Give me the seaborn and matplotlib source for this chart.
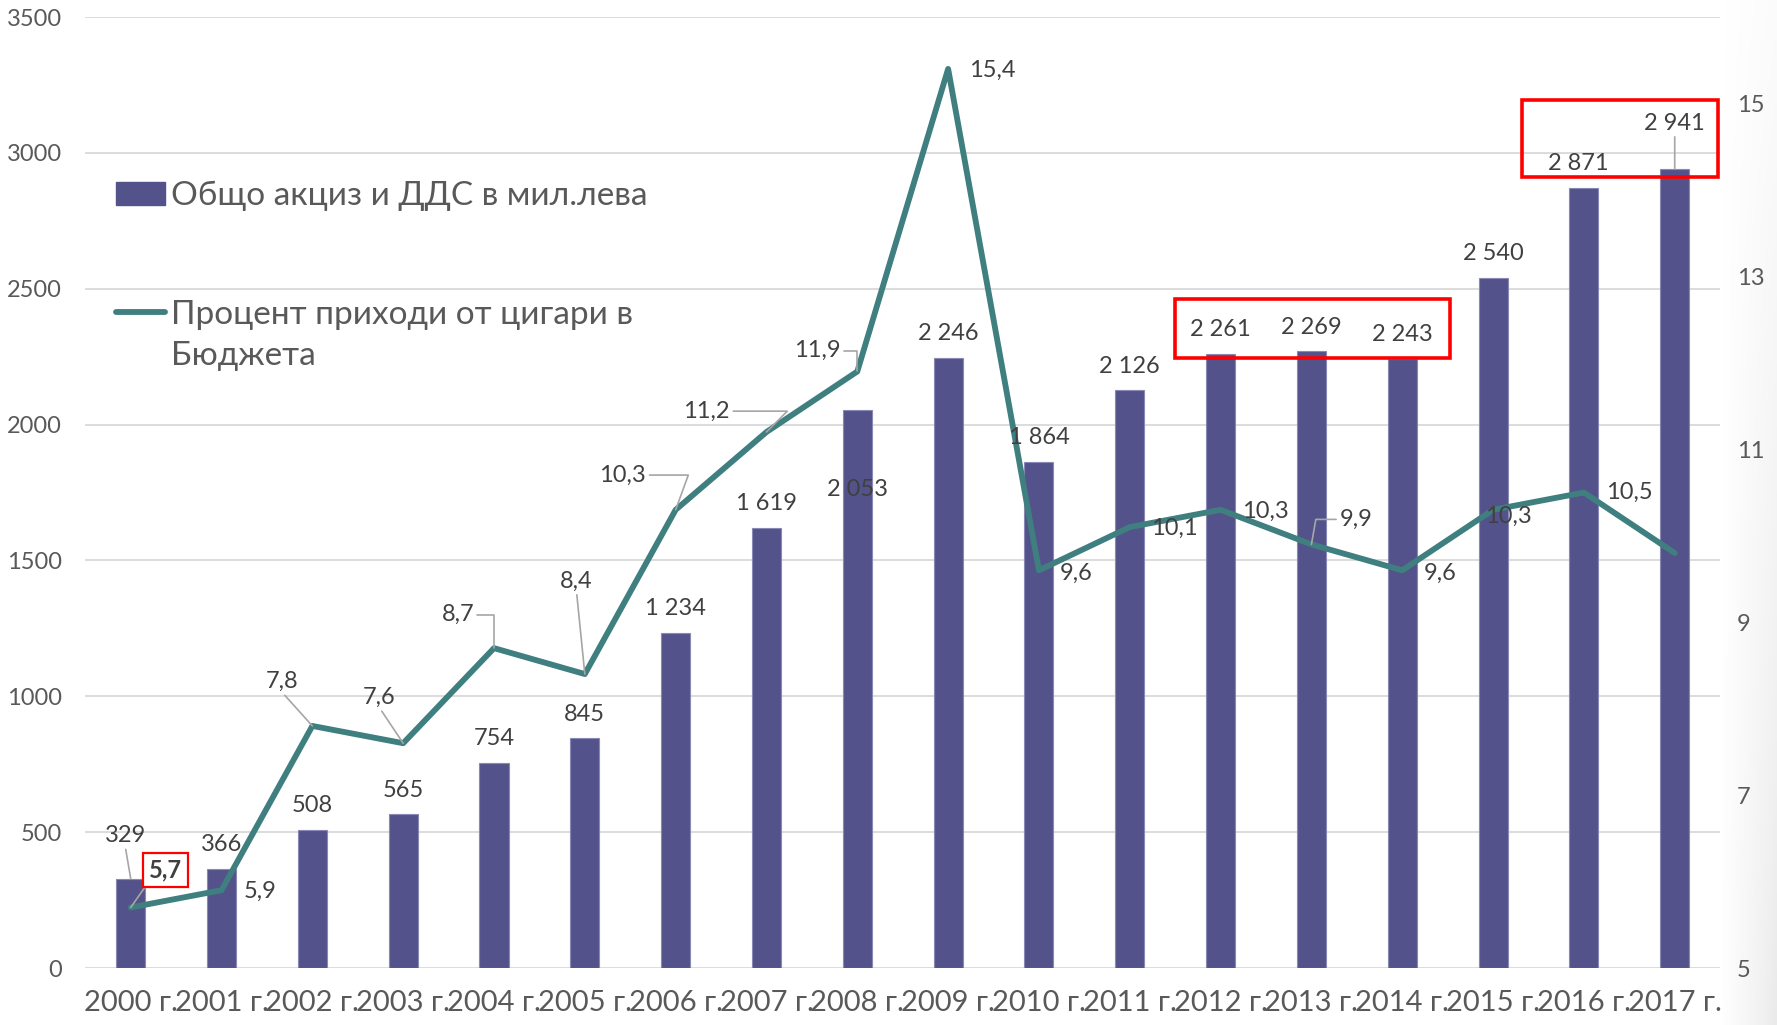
import matplotlib
matplotlib.use('Agg')
import matplotlib.pyplot as plt
import seaborn as sns
import numpy as np
import pandas as pd
from matplotlib.patches import Rectangle, Patch
from matplotlib.lines import Line2D

sns.set_theme(style='white')
plt.rcParams['font.family'] = ['Lato', 'DejaVu Sans']

# data
years = ['2000 г.', '2001 г.', '2002 г.', '2003 г.', '2004 г.', '2005 г.', '2006 г.', '2007 г.', '2008 г.',
         '2009 г.', '2010 г.', '2011 г.', '2012 г.', '2013 г.', '2014 г.', '2015 г.', '2016 г.', '2017 г.']
revenue = [329, 366, 508, 565, 754, 845, 1234, 1619, 2053, 2246, 1864, 2126, 2261, 2269, 2243, 2540, 2871, 2941]
share = [5.7, 5.9, 7.8, 7.6, 8.7, 8.4, 10.3, 11.2, 11.9, 15.4, 9.6, 10.1, 10.3, 9.9, 9.6, 10.3, 10.5, 9.8]
share_shown = [True] * 17 + [False]
bar_name = 'Общо акциз и ДДС в мил.лева'
line_name = ['Процент приходи от цигари в', 'Бюджета']
left_ticks = [0, 500, 1000, 1500, 2000, 2500, 3000, 3500]
right_ticks = [5, 7, 9, 11, 13, 15]

bar_col = '#53528a'
line_col = '#3f7f80'
txt_col = '#404040'
tick_col = '#595959'

df = pd.DataFrame({'year': years, 'revenue': revenue, 'share': share})
df['pos'] = range(len(df))

fig = plt.figure(figsize=(17.77, 10.25), dpi=100)

# faint grey shading behind the right axis labels, darker towards the bottom right
bg = fig.add_axes([0.968, 0.0, 0.032, 1.0], zorder=-5)
gx = np.linspace(0, 1, 50)
gy = np.linspace(0, 1, 50)
grad = 0.16 * gx[None, :] * (0.2 + 0.8 * gy[:, None])
bg.imshow(grad, cmap='Greys', vmin=0, vmax=1, aspect='auto', origin='upper')
bg.axis('off')

ax = fig.add_axes([0.048, 0.0556, 0.92, 0.9278])
ax.patch.set_alpha(0)
sns.barplot(data=df, x='year', y='revenue', color=bar_col, width=0.32, saturation=1,
            edgecolor='#8a89b5', linewidth=0.8, ax=ax, zorder=2)
ax.set_xlim(-0.5, len(years) - 0.5)
ax.set_ylim(0, 3500)
ax.set_yticks(left_ticks)
ax.yaxis.grid(True, color='#d9d9d9', lw=1.3, zorder=0)
ax.set_axisbelow(True)
ax.set_xlabel('')
ax.set_ylabel('')
for s in ax.spines.values():
    s.set_visible(False)
ax.tick_params(axis='y', labelsize=17, colors=tick_col, length=0, pad=17)
ax.tick_params(axis='x', labelsize=21, colors=tick_col, length=0, pad=16)

# red highlight frames (left axis units)
ax.add_patch(Rectangle((11.5, 2244), 3.03, 217, fill=False, ec='#ff0000', lw=2.6, zorder=7, clip_on=False))
ax.add_patch(Rectangle((15.32, 2912), 2.16, 284, fill=False, ec='#ff0000', lw=2.6, zorder=7, clip_on=False))

ax2 = ax.twinx()
sns.lineplot(data=df, x='pos', y='share', color=line_col, ax=ax2, zorder=3)
ax2.lines[0].set_linewidth(4.2)
ax2.lines[0].set_solid_joinstyle('round')
ax2.set_ylim(5, 16)
ax2.set_yticks(right_ticks)
ax2.set_ylabel('')
ax2.set_xlabel('')
ax2.grid(False)
for s in ax2.spines.values():
    s.set_visible(False)
ax2.tick_params(axis='y', labelsize=17, colors=tick_col, length=0, pad=12)
ax2.set_xlim(-0.5, len(years) - 0.5)

lead = dict(arrowstyle='-', color='#a6a6a6', lw=1.2, shrinkA=0, shrinkB=0)

# bar value labels (offsets in points)
bar_off = {0: (-4, 31), 8: (0, -57), 16: (-4, 17.5), 17: (0, 33)}
for i, v in enumerate(revenue):
    dx, dy = bar_off.get(i, (0, 17.5))
    lab = f'{v:,}'.replace(',', ' ')
    kw = {}
    if i in (0, 17):
        kw['arrowprops'] = dict(lead, relpos=(0.5, 0.0))
    ax2.annotate(lab, xy=(i, v), xycoords=ax.transData, xytext=(dx, dy), textcoords='offset points',
                 ha='center', va='center', fontsize=17, color=txt_col, zorder=5, **kw)

# line value labels
line_off = [(25, 27), (28, -1), (-22, 32), (-17, 33), (-26, 24), (-6, 67), (-38, 25), (-43, 15), (-29, 15),
            (32, -1), (27, -2), (32, -1), (32, -1), (32, 18), (27, -2), (11, -5), (33, 0)]
with_lead = {0: 'arc3', 2: 'arc3', 3: 'arc3', 4: 'angle,angleA=0,angleB=90,rad=0', 5: 'arc3',
             6: 'angle,angleA=0,angleB=70,rad=0', 7: 'angle,angleA=0,angleB=45,rad=0',
             8: 'angle,angleA=0,angleB=90,rad=0', 13: 'angle,angleA=0,angleB=80,rad=0'}
for i, (v, show) in enumerate(zip(share, share_shown)):
    if not show:
        continue
    dx, dy = line_off[i]
    lab = f'{v:.1f}'.replace('.', ',')
    kw = {}
    if i in with_lead:
        cs = with_lead[i]
        if cs.startswith('angle'):
            rp = (1.0, 0.5) if dx < 0 else (0.0, 0.5)
        else:
            rp = (0.5, 0.0) if dy > 0 else (0.5, 1.0)
        if i == 0:
            rp = (0.0, 0.0)
        kw['arrowprops'] = dict(lead, connectionstyle=cs, relpos=rp)
    if i == 0:
        kw['fontweight'] = 'bold'
        kw['bbox'] = dict(boxstyle='square,pad=0.25', fc='white', ec='#ff0000', lw=1.6)
    ax2.annotate(lab, xy=(i, v), xytext=(dx, dy), textcoords='offset points', ha='center', va='center',
                 fontsize=17, color=txt_col, zorder=6, **kw)

# legend: two blocks so the line key sits on the first text line
leg1 = ax2.legend([Patch(color=bar_col)], [bar_name], loc='center left', bbox_to_anchor=(0.019, 0.812),
                  frameon=False, fontsize=24, labelcolor=tick_col, handlelength=1.45,
                  handletextpad=0.2, borderaxespad=0, borderpad=0)
ax2.add_artist(leg1)
ax2.legend([Line2D([0], [0], color=line_col, lw=4.2), Line2D([], [], lw=0)], line_name,
           loc='center left', bbox_to_anchor=(0.019, 0.665), frameon=False, fontsize=24,
           labelcolor=tick_col, handlelength=1.45, handletextpad=0.2, labelspacing=0.35,
           borderaxespad=0, borderpad=0)

fig.savefig('out.png', dpi=100)
